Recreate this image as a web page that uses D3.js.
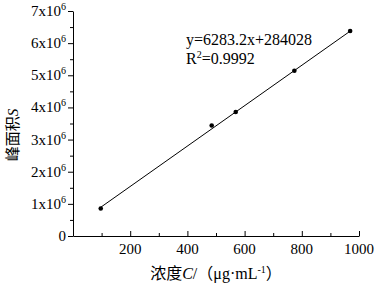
<!DOCTYPE html>
<html>
<head>
<meta charset="utf-8">
<script src="https://cdn.jsdelivr.net/npm/d3@7"></script>
<style>
  body { margin: 0; background: #fff; }
  svg text { font-family: "Liberation Serif", "Times New Roman", serif; fill: #000; }
  .cjk { font-family: "Noto Sans CJK SC", sans-serif; }
</style>
</head>
<body>
<div id="container"></div>
<script>
// data
const concentration = [97, 485, 569, 774, 969];          // C, ug/mL
const peakArea = [855000, 3440000, 3860000, 5140000, 6380000]; // S
const xTicks = [200, 400, 600, 800, 1000];
const yTicks = [0, 1, 2, 3, 4, 5, 6, 7];                  // x10^6
const fitSlope = 6283.2;
const fitIntercept = 284028;
const fitLabel = "y=6283.2x+284028";
const r2Label = "=0.9992";

const width = 377, height = 286;
const margins = { top: 11, bottom: 50, left: 73, right: 18 };

const svg = d3.select("#container").append("svg")
  .attr("width", width).attr("height", height);

const xScale = d3.scaleLinear().domain([0, 1000])
  .range([margins.left, width - margins.right]);
const yScale = d3.scaleLinear().domain([0, 7e6])
  .range([height - margins.bottom, margins.top]);

// x axis: ticks point up (inside)
const xAxis = svg.append("g")
  .attr("transform", `translate(0,${yScale(0)})`)
  .call(d3.axisBottom(xScale).tickValues(d3.range(100, 1001, 100))
    .tickSize(-5).tickSizeOuter(0).tickFormat(""));
xAxis.selectAll(".tick line").attr("y2", d => d % 200 === 0 ? -5 : -3);
xAxis.selectAll("path, line").attr("stroke", "#000");

svg.selectAll("text.xlab")
  .data(xTicks)
  .join("text")
  .attr("class", "xlab")
  .attr("x", d => xScale(d))
  .attr("y", yScale(0) + 18)
  .attr("text-anchor", "middle")
  .style("font-size", "15px")
  .text(d => d);

// y axis: ticks point left (outside)
const yAxis = svg.append("g")
  .attr("transform", `translate(${xScale(0)},0)`)
  .call(d3.axisLeft(yScale).tickValues(d3.range(0, 7.01e6, 0.5e6))
    .tickSize(5).tickSizeOuter(0).tickFormat(""));
yAxis.selectAll(".tick line").attr("x2", d => d % 1e6 === 0 ? -5 : -3);
yAxis.selectAll("path, line").attr("stroke", "#000");

const ylab = svg.selectAll("text.ylab")
  .data(yTicks)
  .join("text")
  .attr("class", "ylab")
  .attr("x", xScale(0) - 7)
  .attr("y", d => yScale(d * 1e6) + 5)
  .attr("text-anchor", "end")
  .style("font-size", "15px");
ylab.each(function(d) {
  const t = d3.select(this);
  if (d === 0) { t.text("0"); return; }
  t.append("tspan").text(d + "x10");
  t.append("tspan").attr("dy", -6).style("font-size", "10px").text("6");
});

// fitted line
const x0 = d3.min(concentration), x1 = d3.max(concentration);
svg.append("line")
  .attr("x1", xScale(x0)).attr("y1", yScale(fitSlope * x0 + fitIntercept))
  .attr("x2", xScale(x1)).attr("y2", yScale(fitSlope * x1 + fitIntercept))
  .attr("stroke", "#000").attr("stroke-width", 1);

// points
svg.selectAll("circle")
  .data(concentration)
  .join("circle")
  .attr("cx", d => xScale(d))
  .attr("cy", (d, i) => yScale(peakArea[i]))
  .attr("r", 2.3)
  .attr("fill", "#000");

// equation text
svg.append("text")
  .attr("x", 186).attr("y", 45)
  .style("font-size", "16px")
  .text(fitLabel);
const r2 = svg.append("text")
  .attr("x", 186).attr("y", 64)
  .style("font-size", "16px");
r2.append("tspan").text("R");
r2.append("tspan").attr("dy", -6).style("font-size", "10px").text("2");
r2.append("tspan").attr("dy", 6).text(r2Label);

// x title
const xt = svg.append("text")
  .attr("x", (xScale(0) + xScale(1000)) / 2)
  .attr("y", 279)
  .attr("text-anchor", "middle")
  .style("font-size", "16px");
xt.append("tspan").attr("class", "cjk").text("浓度");
xt.append("tspan").style("font-style", "italic").text("C");
xt.append("tspan").text("/");
xt.append("tspan").attr("class", "cjk").text("（");
xt.append("tspan").text("μg·mL");
xt.append("tspan").attr("dy", -6).style("font-size", "10px").text("-1");
xt.append("tspan").attr("dy", 6).attr("class", "cjk").text("）");

// y title
const yt = svg.append("text")
  .attr("transform", "translate(18,135) rotate(-90)")
  .attr("text-anchor", "middle")
  .style("font-size", "15px");
yt.append("tspan").attr("class", "cjk").text("峰面积");
yt.append("tspan").style("font-style", "italic").text("S");
</script>
</body>
</html>
